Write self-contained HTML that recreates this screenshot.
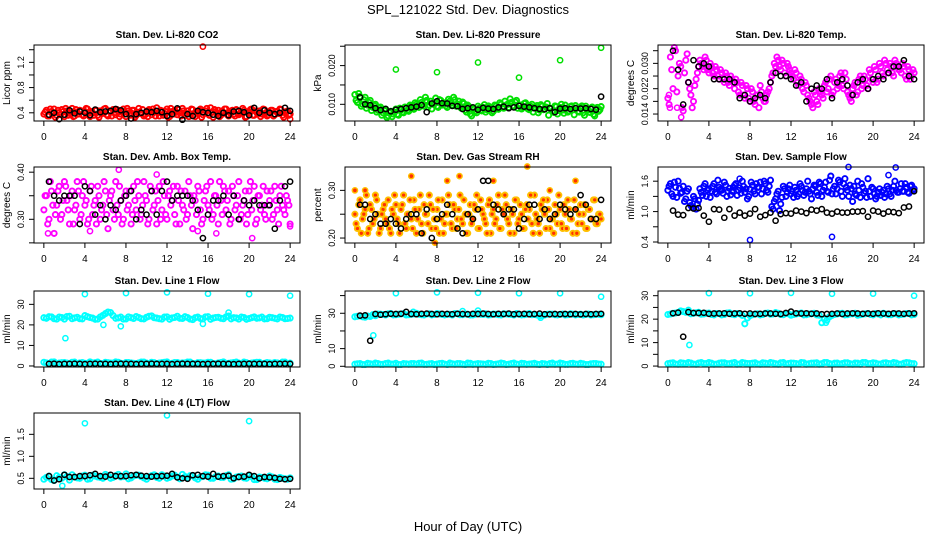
<!DOCTYPE html>
<html><head><meta charset="utf-8"><title>SPL_121022 Std. Dev. Diagnostics</title>
<style>html,body{margin:0;padding:0;background:#fff;}svg{display:block;font-family:"Liberation Sans",Arial,sans-serif;}</style>
</head><body>
<svg id="chart" width="936" height="540" viewBox="0 0 936 540">
<rect x="0" y="0" width="936" height="540" fill="#fff"/>
<text x="468" y="14" font-size="13" text-anchor="middle">SPL_121022  Std. Dev. Diagnostics</text>
<text x="468" y="531" font-size="13" text-anchor="middle">Hour of Day (UTC)</text>
</svg>
<script>
const X_TICKS=[0,4,8,12,16,20,24];
// ---- CO2 ----
const co2Vals=[0.38,0.44,0.35,0.42,0.46,0.36,0.40,0.45,0.34,0.43,0.39,0.47,0.35,0.41,0.44,0.37,0.42,0.46,0.34,0.40,0.44,0.36,0.43,0.39,0.47,0.35,0.41,0.45,0.37,0.42,0.38,0.46,0.34,0.43,0.40,0.44,0.36,0.47,0.39,0.35,0.42,0.45,0.37,0.41,0.48,0.35,0.43,0.39,0.46,0.34,0.42,0.44,0.37,0.40,0.47,0.36,0.43,0.38,0.45,0.34,0.41,0.46,0.37,0.43,0.39,0.48,0.33,0.42,0.44,0.36,0.40,0.46,0.35,0.43,0.38,0.45,0.37,0.41,0.44,0.34,0.42,0.46,0.36,0.40,0.43,0.38,0.45,0.35,0.41,0.44,0.37,0.42,0.46,0.36,0.40,0.43,0.38];
const co2ValsB=[0.41,0.35,0.46,0.39,0.33,0.44,0.37,0.42,0.47,0.36,0.40,0.34,0.45,0.38,0.43,0.35,0.47,0.39,0.42,0.36,0.44,0.33,0.41,0.46,0.37,0.43,0.35,0.40,0.45,0.34,0.42,0.38,0.47,0.36,0.44,0.33,0.41,0.39,0.45,0.37,0.34,0.43,0.46,0.35,0.40,0.44,0.36,0.42,0.33,0.47,0.38,0.41,0.45,0.35,0.43,0.39,0.34,0.46,0.37,0.42,0.44,0.33,0.40,0.47,0.36,0.41,0.45,0.38,0.34,0.43,0.46,0.37,0.40,0.44,0.35,0.42,0.39,0.47,0.33,0.41,0.45,0.36,0.43,0.38,0.34,0.46,0.40,0.37,0.44,0.35,0.42,0.39,0.45,0.33,0.41,0.36];
const co2OutHours=[15.5,24];
const co2OutVals=[1.45,0.30];
const co2Black=[0.37,0.40,0.30,0.37,0.44,0.39,0.42,0.40,0.36,0.45,0.41,0.42,0.43,0.46,0.44,0.38,0.31,0.38,0.40,0.42,0.41,0.43,0.41,0.35,0.38,0.47,0.29,0.38,0.35,0.43,0.41,0.40,0.37,0.35,0.40,0.36,0.42,0.43,0.41,0.36,0.48,0.40,0.44,0.40,0.38,0.40,0.48,0.43];
const co2Ticks=[0.4,0.6,0.8,1.0,1.2,1.4];
const co2Labels=["0.4","","0.8","","1.2",""];
// ---- Pressure ----
const presVals=[0.0125,0.0105,0.0120,0.0100,0.0118,0.0098,0.0110,0.0092,0.0100,0.0085,0.0093,0.0078,0.0088,0.0070,0.0082,0.0075,0.0088,0.0072,0.0085,0.0078,0.0090,0.0082,0.0095,0.0087,0.0100,0.0092,0.0105,0.0095,0.0110,0.0098,0.0088,0.0105,0.0095,0.0112,0.0098,0.0104,0.0092,0.0108,0.0098,0.0112,0.0100,0.0094,0.0106,0.0085,0.0098,0.0075,0.0090,0.0082,0.0095,0.0085,0.0092,0.0080,0.0096,0.0088,0.0082,0.0095,0.0087,0.0100,0.0090,0.0098,0.0092,0.0105,0.0094,0.0110,0.0098,0.0088,0.0102,0.0094,0.0086,0.0100,0.0092,0.0097,0.0085,0.0095,0.0088,0.0102,0.0090,0.0082,0.0096,0.0075,0.0092,0.0085,0.0098,0.0080,0.0094,0.0086,0.0097,0.0082,0.0092,0.0078,0.0095,0.0085,0.0090,0.0074,0.0088,0.0082,0.0094];
const presValsB=[0.0110,0.0128,0.0095,0.0112,0.0090,0.0105,0.0084,0.0097,0.0080,0.0090,0.0072,0.0084,0.0066,0.0078,0.0068,0.0080,0.0074,0.0090,0.0080,0.0093,0.0085,0.0098,0.0090,0.0104,0.0096,0.0112,0.0100,0.0118,0.0093,0.0108,0.0100,0.0116,0.0092,0.0110,0.0100,0.0096,0.0113,0.0104,0.0118,0.0095,0.0108,0.0090,0.0102,0.0080,0.0094,0.0070,0.0087,0.0078,0.0090,0.0083,0.0099,0.0086,0.0092,0.0078,0.0098,0.0090,0.0104,0.0093,0.0108,0.0100,0.0114,0.0096,0.0106,0.0090,0.0098,0.0092,0.0104,0.0088,0.0095,0.0080,0.0092,0.0078,0.0099,0.0086,0.0093,0.0072,0.0089,0.0079,0.0094,0.0084,0.0100,0.0077,0.0090,0.0083,0.0096,0.0073,0.0091,0.0080,0.0096,0.0072,0.0087,0.0079,0.0093,0.0070,0.0092,0.0086];
const presOutHours=[4,8,12,16,20,24];
const presOutVals=[0.0190,0.0183,0.0208,0.0169,0.0214,0.0246];
const presBlack=[0.0118,0.0100,0.0098,0.0090,0.0085,0.0088,0.0082,0.0086,0.0088,0.0090,0.0092,0.0094,0.0098,0.0080,0.0102,0.0108,0.0103,0.0102,0.0096,0.0095,0.0088,0.0090,0.0092,0.0086,0.0091,0.0089,0.0088,0.0092,0.0094,0.0090,0.0092,0.0096,0.0094,0.0092,0.0090,0.0088,0.0087,0.0090,0.0080,0.0089,0.0090,0.0088,0.0090,0.0089,0.0090,0.0088,0.0086,0.0120];
const presTicks=[0.010,0.015,0.020,0.025];
const presLabels=["0.010","","0.020",""];
// ---- Li-820 Temp ----
const tempVals=[0.019,0.032,0.022,0.034,0.026,0.029,0.015,0.031,0.024,0.020,0.018,0.025,0.029,0.030,0.028,0.031,0.027,0.029,0.026,0.028,0.025,0.027,0.024,0.026,0.023,0.025,0.022,0.024,0.020,0.023,0.019,0.022,0.018,0.021,0.017,0.020,0.023,0.019,0.018,0.021,0.024,0.027,0.029,0.031,0.028,0.030,0.026,0.029,0.027,0.025,0.027,0.023,0.025,0.021,0.023,0.019,0.017,0.021,0.018,0.022,0.020,0.023,0.021,0.025,0.020,0.024,0.022,0.026,0.023,0.027,0.021,0.019,0.022,0.024,0.021,0.026,0.023,0.025,0.022,0.027,0.024,0.028,0.025,0.029,0.026,0.030,0.027,0.029,0.026,0.030,0.028,0.027,0.029,0.025,0.028,0.026,0.027];
const tempValsB=[0.017,0.028,0.035,0.021,0.030,0.016,0.027,0.033,0.022,0.016,0.023,0.027,0.031,0.029,0.032,0.028,0.030,0.027,0.029,0.026,0.028,0.025,0.027,0.024,0.026,0.024,0.025,0.021,0.024,0.020,0.023,0.019,0.022,0.018,0.020,0.016,0.021,0.018,0.020,0.022,0.026,0.030,0.032,0.029,0.031,0.027,0.030,0.028,0.026,0.028,0.024,0.026,0.022,0.024,0.020,0.018,0.016,0.020,0.017,0.021,0.019,0.024,0.022,0.026,0.021,0.025,0.023,0.027,0.022,0.025,0.020,0.018,0.023,0.020,0.025,0.022,0.026,0.023,0.028,0.025,0.029,0.024,0.030,0.027,0.031,0.028,0.030,0.027,0.031,0.029,0.028,0.030,0.026,0.029,0.025,0.028];
const tempOutHours=[0.2,0.9,1.3,0.1];
const tempOutVals=[0.016,0.016,0.013,0.020];
const tempBlack=[0.034,0.028,0.017,0.024,0.031,0.029,0.030,0.029,0.025,0.025,0.025,0.025,0.024,0.019,0.020,0.018,0.019,0.020,0.019,0.024,0.027,0.026,0.026,0.025,0.023,0.024,0.018,0.022,0.023,0.022,0.025,0.019,0.024,0.025,0.023,0.020,0.024,0.025,0.022,0.025,0.026,0.025,0.027,0.029,0.029,0.031,0.026,0.025];
const tempTicks=[0.014,0.018,0.022,0.026,0.030,0.034];
const tempLabels=["0.014","","0.022","","0.030",""];
// ---- Amb Box Temp ----
const boxVals=[0.32,0.35,0.30,0.36,0.27,0.33,0.37,0.31,0.38,0.34,0.29,0.36,0.32,0.38,0.30,0.35,0.33,0.29,0.36,0.31,0.34,0.37,0.30,0.33,0.36,0.28,0.35,0.32,0.38,0.31,0.34,0.30,0.36,0.33,0.29,0.37,0.32,0.35,0.31,0.38,0.34,0.30,0.36,0.33,0.29,0.37,0.32,0.35,0.30,0.36,0.34,0.31,0.37,0.29,0.33,0.36,0.31,0.35,0.28,0.34,0.37,0.32,0.30,0.36,0.33,0.38,0.31,0.35,0.29,0.34,0.37,0.32,0.36,0.30,0.35,0.33,0.38,0.31,0.34,0.29,0.36,0.32,0.37,0.30,0.35,0.33,0.31,0.36,0.34,0.30,0.37,0.32,0.35,0.33,0.31,0.34,0.29];
const boxValsB=[0.35,0.29,0.38,0.33,0.31,0.36,0.30,0.34,0.37,0.32,0.35,0.29,0.33,0.36,0.31,0.38,0.34,0.30,0.37,0.33,0.29,0.35,0.32,0.38,0.31,0.34,0.36,0.30,0.33,0.37,0.29,0.35,0.32,0.36,0.31,0.34,0.38,0.30,0.33,0.35,0.29,0.37,0.32,0.36,0.34,0.30,0.38,0.31,0.35,0.33,0.37,0.29,0.34,0.36,0.32,0.30,0.38,0.33,0.35,0.31,0.36,0.29,0.34,0.37,0.32,0.30,0.35,0.33,0.38,0.31,0.36,0.34,0.29,0.37,0.32,0.35,0.30,0.33,0.36,0.31,0.38,0.34,0.29,0.35,0.32,0.37,0.30,0.33,0.36,0.31,0.34,0.29,0.37,0.32,0.35,0.33];
const boxOutHours=[0.4,7.3,11,16.8,20.3,24,15,4.5];
const boxOutVals=[0.27,0.405,0.395,0.27,0.26,0.285,0.275,0.275];
const boxBlack=[0.38,0.35,0.34,0.35,0.35,0.35,0.29,0.37,0.36,0.31,0.33,0.30,0.33,0.32,0.34,0.35,0.36,0.30,0.32,0.31,0.36,0.31,0.36,0.38,0.34,0.35,0.35,0.35,0.34,0.32,0.26,0.31,0.34,0.34,0.35,0.31,0.35,0.30,0.34,0.33,0.34,0.33,0.33,0.33,0.28,0.34,0.37,0.38];
const boxTicks=[0.25,0.30,0.35,0.40];
const boxLabels=["","0.30","","0.40"];
// ---- Gas Stream RH ----
const rhVals=[0.25,0.22,0.28,0.24,0.26,0.21,0.27,0.23,0.29,0.25,0.22,0.26,0.24,0.28,0.21,0.25,0.27,0.23,0.26,0.29,0.22,0.25,0.24,0.28,0.21,0.26,0.23,0.27,0.25,0.29,0.22,0.24,0.26,0.21,0.28,0.23,0.25,0.27,0.22,0.26,0.24,0.29,0.23,0.25,0.21,0.27,0.24,0.26,0.22,0.28,0.25,0.23,0.27,0.21,0.26,0.24,0.29,0.22,0.25,0.27,0.23,0.26,0.21,0.28,0.24,0.25,0.22,0.27,0.26,0.23,0.29,0.24,0.21,0.26,0.25,0.28,0.22,0.24,0.27,0.23,0.26,0.22,0.25,0.28,0.24,0.21,0.26,0.23,0.27,0.25,0.22,0.26,0.24,0.28,0.23,0.25,0.24];
const rhValsB=[0.23,0.27,0.21,0.25,0.29,0.22,0.26,0.24,0.28,0.21,0.25,0.27,0.23,0.22,0.26,0.29,0.24,0.21,0.27,0.23,0.25,0.28,0.22,0.26,0.24,0.29,0.21,0.25,0.23,0.27,0.26,0.22,0.28,0.24,0.21,0.25,0.29,0.23,0.27,0.22,0.26,0.24,0.28,0.21,0.25,0.23,0.27,0.29,0.22,0.26,0.24,0.21,0.28,0.25,0.23,0.27,0.22,0.26,0.29,0.24,0.21,0.25,0.28,0.23,0.27,0.22,0.26,0.24,0.29,0.21,0.25,0.23,0.27,0.28,0.22,0.26,0.24,0.21,0.25,0.29,0.23,0.27,0.22,0.26,0.24,0.28,0.21,0.25,0.23,0.27,0.22,0.26,0.24,0.28,0.23,0.25];
const rhOutHours=[0,1,5.5,9,10.2,13.5,16.8,19,21.5,7.8];
const rhOutVals=[0.30,0.30,0.33,0.32,0.33,0.32,0.35,0.30,0.32,0.19];
const rhBlack=[0.27,0.27,0.24,0.25,0.23,0.23,0.24,0.23,0.22,0.24,0.25,0.25,0.21,0.26,0.20,0.24,0.25,0.27,0.25,0.22,0.21,0.25,0.24,0.26,0.32,0.32,0.27,0.26,0.25,0.26,0.26,0.22,0.24,0.27,0.27,0.24,0.26,0.24,0.25,0.27,0.26,0.25,0.26,0.29,0.27,0.24,0.24,0.28];
const rhTicks=[0.20,0.25,0.30];
const rhLabels=["0.20","","0.30"];
// ---- Sample Flow ----
const sfVals=[1.42,1.55,1.30,1.48,1.60,1.36,1.50,1.25,1.45,1.12,1.30,1.05,1.22,1.38,1.50,1.30,1.45,1.40,1.55,1.35,1.48,1.42,1.58,1.30,1.46,1.40,1.52,1.32,1.47,1.60,1.38,1.25,1.44,1.52,1.35,1.48,1.58,1.45,1.55,1.38,1.62,1.05,1.25,1.40,1.15,1.50,1.30,1.45,1.35,1.28,1.42,1.35,1.50,1.32,1.45,1.40,1.25,1.52,1.38,1.58,1.30,1.48,1.40,1.62,1.35,1.50,1.45,1.58,1.30,1.65,1.42,1.52,1.20,1.35,1.60,1.28,1.48,1.40,1.65,1.30,1.45,1.25,1.38,1.32,1.42,1.35,1.45,1.30,1.50,1.42,1.38,1.55,1.40,1.48,1.36,1.52,1.45];
const sfValsB=[1.50,1.35,1.58,1.28,1.46,1.38,1.20,1.40,1.18,1.08,1.25,1.15,1.45,1.32,1.55,1.42,1.28,1.50,1.38,1.62,1.44,1.36,1.52,1.40,1.33,1.48,1.55,1.42,1.36,1.50,1.45,1.30,1.58,1.40,1.55,1.48,1.35,1.60,1.42,1.50,1.10,1.20,1.35,1.02,1.28,1.45,1.38,1.52,1.40,1.48,1.30,1.55,1.42,1.38,1.60,1.35,1.45,1.50,1.32,1.55,1.42,1.58,1.38,1.70,1.45,1.35,1.62,1.40,1.55,1.48,1.30,1.45,1.50,1.32,1.42,1.55,1.36,1.28,1.40,1.48,1.35,1.30,1.45,1.38,1.28,1.50,1.35,1.42,1.60,1.38,1.45,1.40,1.55,1.38,1.50,1.42];
const sfOutHours=[8,16,17.6,22.2,21.5,7];
const sfOutVals=[0.44,0.50,1.88,1.87,1.72,1.65];
const sfBlack=[1.02,0.94,0.93,1.07,1.06,1.07,0.92,0.80,1.05,1.04,0.88,1.05,0.92,0.98,0.92,0.96,1.05,0.90,0.93,0.98,0.82,0.95,0.97,0.96,1.02,1.00,0.97,1.04,1.02,1.05,0.98,0.96,1.00,0.98,0.98,1.00,1.00,1.01,0.90,1.02,1.00,0.96,1.00,0.99,0.97,1.08,1.10,1.40];
const sfTicks=[0.4,0.7,1.0,1.3,1.6];
const sfLabels=["0.4","","1.0","","1.6"];
// ---- Line 1 ----
const l1Upper=[23.5,24.0,23.0,23.8,22.8,24.2,23.4,23.0,24.5,23.6,22.7,23.9,25.5,26.0,23.2,23.8,22.9,23.5,24.1,23.0,23.7,24.4,23.3,22.8,23.9,23.4,24.2,23.1,23.6,22.6,23.8,22.9,24.0,23.3,23.7,23.0,24.3,23.5,22.8,23.6,23.1,23.9,23.4,22.9,23.7,23.2,23.8,23.0,23.3];
const l1UpperB=[23.2,23.9,22.8,23.6,24.1,23.0,23.7,22.9,24.0,23.3,22.8,24.6,26.3,24.5,23.4,22.8,23.9,23.1,23.6,22.9,24.2,23.5,23.0,23.8,22.7,23.6,23.2,24.0,22.8,23.5,23.1,23.9,22.7,23.6,23.2,23.9,22.9,23.4,23.8,22.7,23.5,23.2,23.8,23.0,23.5,22.9,23.6,23.1];
const l1Lower=[1.8,1.2,2.0,1.4,1.7,1.1,1.9,1.5,1.3,2.0,1.6,1.2,1.8,1.4,2.0,1.3,1.7,1.5,1.1,1.9,1.4,1.8,1.2,1.6,2.0,1.3,1.7,1.5,1.9,1.2,1.6,1.4,1.8,1.1,1.5,2.0,1.3,1.7,1.4,1.9,1.2,1.6,1.8,1.3,1.5,1.7,1.2,1.9,1.4];
const l1LowerB=[1.5,1.9,1.2,1.6,1.4,1.8,1.1,1.7,1.3,1.5,1.9,1.2,1.6,1.4,1.8,1.1,1.7,1.3,1.5,1.9,1.2,1.6,1.4,1.8,1.1,1.7,1.3,1.5,1.9,1.2,1.6,1.4,1.8,1.1,1.7,1.3,1.5,1.9,1.2,1.6,1.4,1.8,1.1,1.7,1.3,1.5,1.9,1.2];
const l1OutHours=[4,8,12,16,20,24,2.1,5.8,7.5,15.5,18];
const l1OutVals=[35,35.5,35.8,35.2,35,34.2,13.5,20,19.3,20.5,26];
const l1Black=[1.0,1.1,0.9,1.0,1.0,1.1,1.0,0.9,1.0,1.1,1.0,1.0,0.9,1.0,1.1,1.0,1.0,0.9,1.0,1.0,1.1,1.0,1.0,1.0,0.9,1.0,1.1,1.0,1.0,1.0,0.9,1.0,1.0,1.1,1.0,1.0,0.9,1.0,1.0,1.1,1.0,1.0,1.0,0.9,1.0,1.0,1.1,1.0];
const l1Ticks=[0,10,20,30];
const l1Labels=["0","10","20","30"];
// ---- Line 2 ----
const l2Upper=[28.0,28.5,27.8,28.2,28.6,29.5,29.0,29.8,29.2,29.6,29.0,29.4,30.0,29.2,29.6,29.1,29.8,29.3,29.5,29.0,29.7,29.2,29.5,29.1,29.8,29.3,29.0,29.6,29.2,29.7,29.4,29.0,29.5,29.2,29.8,29.3,28.5,29.0,29.6,29.2,29.4,29.0,29.7,29.1,29.5,29.3,29.0,29.4,29.2];
const l2UpperB=[28.3,28.0,28.4,29.2,29.6,29.3,29.7,29.1,29.5,29.8,29.2,29.6,29.4,29.0,29.7,29.3,29.6,29.1,29.4,29.8,29.2,29.6,29.0,29.5,29.4,29.7,29.2,29.5,29.0,29.6,29.3,29.8,29.1,29.5,29.2,29.0,28.6,29.4,29.5,29.1,29.6,29.2,29.5,29.3,29.0,29.6,29.2,29.4];
const l2Lower=[1.2,1.6,1.0,1.4,1.8,1.1,1.5,1.3,1.7,1.0,1.4,1.6,1.2,1.8,1.1,1.5,1.3,1.7,1.0,1.4,1.6,1.2,1.8,1.1,1.5,1.3,1.7,1.0,1.4,1.6,1.2,1.8,1.1,1.5,1.3,1.7,1.0,1.4,1.6,1.2,1.8,1.1,1.5,1.3,1.7,1.0,1.4,1.6,1.2];
const l2LowerB=[1.4,1.0,1.7,1.2,1.5,1.1,1.8,1.3,1.0,1.6,1.2,1.5,1.7,1.1,1.4,1.0,1.6,1.3,1.8,1.2,1.5,1.0,1.7,1.3,1.4,1.1,1.6,1.2,1.8,1.0,1.5,1.3,1.7,1.1,1.4,1.2,1.6,1.0,1.8,1.3,1.5,1.1,1.7,1.2,1.4,1.0,1.6,1.3];
const l2OutHours=[4,8,12,16,20,24,1.8,5.7,12,18.1,10.5];
const l2OutVals=[41.3,41.8,41.6,41.3,41.3,39.4,17.5,30.8,31.5,27.5,31.2];
const l2Black=[28.7,28.8,14.5,29.6,29.2,29.5,29.7,29.6,29.7,30.8,29.6,29.5,29.7,29.8,29.6,29.5,29.7,29.6,29.5,29.7,29.6,29.5,29.7,29.6,29.8,29.6,29.5,29.7,29.6,29.8,29.5,29.6,29.7,29.5,29.6,29.8,29.5,29.4,29.6,29.5,29.6,29.5,29.6,29.4,29.6,29.5,29.6,29.7];
const l2Ticks=[0,10,20,30,40];
const l2Labels=["0","10","","30",""];
// ---- Line 3 ----
const l3Upper=[22.0,22.5,22.8,23.2,23.8,22.5,22.9,22.2,22.6,21.8,22.4,22.0,22.7,21.9,22.3,18.0,21.5,22.2,21.8,22.5,22.1,22.8,22.0,22.4,21.7,22.2,22.6,21.9,22.3,21.8,18.5,19.5,21.6,22.2,22.5,21.9,22.3,21.7,22.1,22.4,21.8,22.2,22.5,21.9,22.3,21.8,22.1,22.4,22.0];
const l3UpperB=[22.2,22.6,23.5,22.9,22.3,22.7,22.1,22.5,22.0,22.4,21.8,22.6,22.1,22.4,21.6,20.5,21.9,22.3,22.0,22.6,22.2,22.5,21.9,22.3,22.0,22.4,21.8,22.2,22.5,21.7,20.0,21.0,22.0,22.4,21.8,22.2,22.5,21.9,22.3,22.0,22.4,21.8,22.2,21.9,22.3,22.0,22.4,21.8];
const l3Lower=[1.0,1.4,0.8,1.2,1.5,0.9,1.3,1.1,1.5,0.8,1.2,1.4,1.0,1.5,0.9,1.3,1.1,1.4,0.8,1.2,1.5,1.0,1.4,0.9,1.3,1.1,1.5,0.8,1.2,1.4,1.0,1.5,0.9,1.3,1.1,1.4,0.8,1.2,1.5,1.0,1.4,0.9,1.3,1.1,1.5,0.8,1.2,1.4,1.0];
const l3LowerB=[1.2,0.9,1.4,1.0,1.3,0.8,1.5,1.1,1.2,0.9,1.4,1.0,1.3,0.8,1.5,1.1,1.2,0.9,1.4,1.0,1.3,0.8,1.5,1.1,1.2,0.9,1.4,1.0,1.3,0.8,1.5,1.1,1.2,0.9,1.4,1.0,1.3,0.8,1.5,1.1,1.2,0.9,1.4,1.0,1.3,0.8,1.5,1.1];
const l3OutHours=[4,8,12,16,20,24,2.1,7.5,15.4];
const l3OutVals=[31.1,31.0,31.2,30.8,30.9,30.0,9.0,18.0,18.5];
const l3Black=[22.5,22.8,12.5,23.0,22.6,22.6,22.7,22.3,22.4,22.4,22.5,22.3,22.4,22.5,22.3,22.4,22.2,22.3,22.4,22.4,22.3,22.2,22.6,23.2,22.5,22.4,22.5,22.3,22.4,22.1,22.2,22.3,22.4,22.2,22.4,22.5,22.4,22.3,22.4,22.3,22.5,22.4,22.3,22.5,22.4,22.3,22.4,22.5];
const l3Ticks=[0,5,10,15,20,25,30];
const l3Labels=["0","","10","","20","","30"];
// ---- Line 4 ----
const l4Vals=[0.48,0.55,0.45,0.52,0.58,0.46,0.53,0.50,0.57,0.49,0.55,0.52,0.59,0.50,0.56,0.53,0.60,0.51,0.57,0.54,0.48,0.56,0.52,0.58,0.50,0.55,0.53,0.59,0.51,0.56,0.48,0.54,0.57,0.50,0.55,0.52,0.58,0.49,0.54,0.51,0.56,0.47,0.53,0.50,0.55,0.48,0.52,0.49,0.51];
const l4ValsB=[0.52,0.47,0.56,0.50,0.54,0.58,0.51,0.55,0.48,0.57,0.53,0.50,0.56,0.52,0.59,0.54,0.49,0.55,0.57,0.51,0.53,0.58,0.50,0.55,0.52,0.57,0.49,0.54,0.56,0.51,0.53,0.58,0.50,0.54,0.52,0.56,0.48,0.53,0.55,0.50,0.54,0.47,0.52,0.49,0.53,0.47,0.50,0.48];
const l4OutHours=[4,12,20,1.8];
const l4OutVals=[1.75,1.93,1.80,0.33];
const l4Black=[0.55,0.45,0.48,0.58,0.53,0.53,0.55,0.55,0.57,0.60,0.55,0.54,0.58,0.55,0.55,0.55,0.57,0.58,0.56,0.55,0.54,0.55,0.55,0.56,0.60,0.52,0.50,0.49,0.57,0.58,0.55,0.54,0.60,0.54,0.55,0.56,0.50,0.53,0.54,0.58,0.55,0.50,0.53,0.52,0.51,0.49,0.48,0.49];
const l4Ticks=[0.5,1.0,1.5];
const l4Labels=["0.5","1.0","1.5"];

const NS="http://www.w3.org/2000/svg";
const svg=document.getElementById('chart');
function mk(tag,attrs,parent){const e=document.createElementNS(NS,tag);for(const k in attrs)e.setAttribute(k,attrs[k]);(parent||svg).appendChild(e);return e;}

const COLS=[34,345,658], ROWS=[45,167,291,413], W=266, H=76;
const q=(v,step,start)=>({v:v,step:step,start:start});
const panels=[
 {key:'co2',c:0,r:0,title:'Stan. Dev. Li-820 CO2',ylab:'Licor ppm',ymin:0.27,ymax:1.475,col:'#ff0000',fill:'none',
  series:[q(co2Vals,0.25,0),q(co2ValsB,0.25,0.125)],out:[co2OutHours,co2OutVals],black:co2Black,ticks:co2Ticks,labels:co2Labels},
 {key:'pressure',c:1,r:0,title:'Stan. Dev. Li-820 Pressure',ylab:'kPa',ymin:0.00569,ymax:0.02532,col:'#00e000',fill:'none',
  series:[q(presVals,0.25,0),q(presValsB,0.25,0.125)],out:[presOutHours,presOutVals],black:presBlack,ticks:presTicks,labels:presLabels},
 {key:'li820-temp',c:2,r:0,title:'Stan. Dev. Li-820 Temp.',ylab:'degrees C',ymin:0.0118,ymax:0.0358,col:'#ff00ff',fill:'none',
  series:[q(tempVals,0.25,0),q(tempValsB,0.25,0.125)],out:[tempOutHours,tempOutVals],black:tempBlack,ticks:tempTicks,labels:tempLabels},
 {key:'box-temp',c:0,r:1,title:'Stan. Dev. Amb. Box Temp.',ylab:'degrees C',ymin:0.2497,ymax:0.411,col:'#ff00ff',fill:'none',
  series:[q(boxVals,0.25,0),q(boxValsB,0.25,0.125)],out:[boxOutHours,boxOutVals],black:boxBlack,ticks:boxTicks,labels:boxLabels},
 {key:'rh',c:1,r:1,title:'Stan. Dev. Gas Stream RH',ylab:'percent',ymin:0.1896,ymax:0.349,col:'#ffc000',fill:'#ff3000',
  series:[q(rhVals,0.25,0),q(rhValsB,0.25,0.125)],out:[rhOutHours,rhOutVals],black:rhBlack,ticks:rhTicks,labels:rhLabels},
 {key:'sample-flow',c:2,r:1,title:'Stan. Dev. Sample Flow',ylab:'ml/min',ymin:0.38,ymax:1.88,col:'#0000ff',fill:'none',
  series:[q(sfVals,0.25,0),q(sfValsB,0.25,0.125)],out:[sfOutHours,sfOutVals],black:sfBlack,ticks:sfTicks,labels:sfLabels},
 {key:'line1',c:0,r:2,title:'Stan. Dev. Line 1 Flow',ylab:'ml/min',ymin:-0.5,ymax:36.5,col:'#00ffff',fill:'none',
  series:[q(l1Upper,0.5,0),q(l1UpperB,0.5,0.25),q(l1Lower,0.5,0),q(l1LowerB,0.5,0.25)],out:[l1OutHours,l1OutVals],black:l1Black,ticks:l1Ticks,labels:l1Labels},
 {key:'line2',c:1,r:2,title:'Stan. Dev. Line 2 Flow',ylab:'ml/min',ymin:-0.4,ymax:42.6,col:'#00ffff',fill:'none',
  series:[q(l2Upper,0.5,0),q(l2UpperB,0.5,0.25),q(l2Lower,0.5,0),q(l2LowerB,0.5,0.25)],out:[l2OutHours,l2OutVals],black:l2Black,ticks:l2Ticks,labels:l2Labels},
 {key:'line3',c:2,r:2,title:'Stan. Dev. Line 3 Flow',ylab:'ml/min',ymin:-0.4,ymax:32,col:'#00ffff',fill:'none',
  series:[q(l3Upper,0.5,0),q(l3UpperB,0.5,0.25),q(l3Lower,0.5,0),q(l3LowerB,0.5,0.25)],out:[l3OutHours,l3OutVals],black:l3Black,ticks:l3Ticks,labels:l3Labels},
 {key:'line4',c:0,r:3,title:'Stan. Dev. Line 4 (LT) Flow',ylab:'ml/min',ymin:0.257,ymax:1.985,col:'#00ffff',fill:'none',
  series:[q(l4Vals,0.5,0),q(l4ValsB,0.5,0.25)],out:[l4OutHours,l4OutVals],black:l4Black,ticks:l4Ticks,labels:l4Labels}
];

panels.forEach(p=>{
  const L=COLS[p.c], T=ROWS[p.r];
  const g=mk('g',{});
  
  
  const xs=h=>L+(h+0.96)/25.92*W;
  const ys=v=>T+H-(v-p.ymin)/(p.ymax-p.ymin)*H;
  const t=mk('text',{x:L+W/2,y:T-7,'font-size':10,'font-weight':'bold','text-anchor':'middle'},g);
  t.textContent=p.title;
  
  
  const pts=mk('g',{},g);
  
  
  const dot=(h,v,stroke,fill,sw)=>{const y=ys(v);if(y<T-2||y>T+H+2)return;const c=mk('circle',{cx:xs(h).toFixed(1),cy:y.toFixed(1),r:2.6,fill:fill,stroke:stroke,'stroke-width':sw},pts);
    
    };
  p.series.forEach(s=>s.v.forEach((v,i)=>dot(s.start+i*s.step,v,p.col,p.fill,1.9)));
  p.out[0].forEach((h,i)=>dot(h,p.out[1][i],p.col,p.fill,1.5));
  p.black.forEach((v,i)=>dot(0.5+i*0.5,v,'#000','none',1.5));
  const box=mk('rect',{x:L,y:T,width:W,height:H,fill:'none',stroke:'#000','stroke-width':1},g);
  
  
  const xa=mk('g',{},g);
  
  
  mk('line',{x1:xs(X_TICKS[0]),x2:xs(X_TICKS[X_TICKS.length-1]),y1:T+H,y2:T+H,stroke:'#000'},xa);
  X_TICKS.forEach(h=>{mk('line',{x1:xs(h),x2:xs(h),y1:T+H,y2:T+H+5,stroke:'#000'},xa);
    const tx=mk('text',{x:xs(h),y:T+H+19,'font-size':10,'text-anchor':'middle'},xa);tx.textContent=String(h);});
  const ya=mk('g',{},g);
  
  
  mk('line',{x1:L,x2:L,y1:ys(p.ticks[0]),y2:ys(p.ticks[p.ticks.length-1]),stroke:'#000'},ya);
  p.ticks.forEach((v,i)=>{const y=ys(v);mk('line',{x1:L-5,x2:L,y1:y,y2:y,stroke:'#000'},ya);
    if(p.labels[i]){const tx=mk('text',{x:L-10,y:y,'font-size':9,'text-anchor':'middle',transform:`rotate(-90 ${L-10} ${y})`},ya);tx.textContent=p.labels[i];}});
  const yl=mk('text',{x:L-24,y:T+H/2,'font-size':10,'text-anchor':'middle',transform:`rotate(-90 ${L-24} ${T+H/2})`},g);
  yl.textContent=p.ylab;
  
  
});
</script>
</body></html>
